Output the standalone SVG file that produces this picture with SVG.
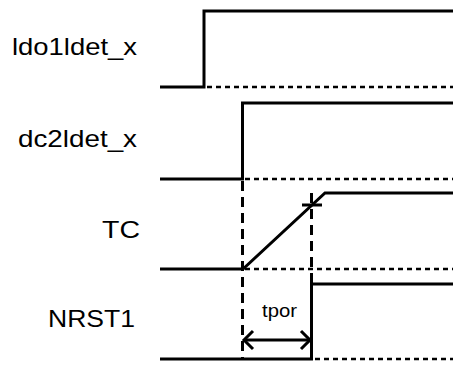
<svg xmlns="http://www.w3.org/2000/svg" width="453" height="365" viewBox="0 0 453 365">
<style>
.sig{fill:none;stroke:#000;stroke-width:3;stroke-linejoin:miter}
.dot{fill:none;stroke:#000;stroke-width:2.5;stroke-dasharray:5 4}
.dash{fill:none;stroke:#000;stroke-width:3;stroke-dasharray:10 6}
.lbl{font-family:"Liberation Sans",Arial,sans-serif;font-size:24px;fill:#000}
.small{font-family:"Liberation Sans",Arial,sans-serif;font-size:19px;fill:#000}
</style>
<rect width="453" height="365" fill="#fff"/>
<g id="labels">
<text class="lbl" x="12" y="55" textLength="125" lengthAdjust="spacingAndGlyphs">ldo1ldet_x</text>
<text class="lbl" x="18" y="147" textLength="119" lengthAdjust="spacingAndGlyphs">dc2ldet_x</text>
<text class="lbl" x="102" y="238" textLength="38" lengthAdjust="spacingAndGlyphs">TC</text>
<text class="lbl" x="48" y="327" textLength="87" lengthAdjust="spacingAndGlyphs">NRST1</text>
</g>
<g id="guides">
<line class="dot" x1="207" y1="87" x2="453" y2="87"/>
<line class="dot" x1="245" y1="179" x2="453" y2="179"/>
<line class="dot" x1="245" y1="269" x2="453" y2="269"/>
<line class="dot" x1="315" y1="359" x2="453" y2="359"/>
<line class="dash" x1="242.5" y1="181" x2="242.5" y2="359"/>
<line class="dash" x1="311.5" y1="193" x2="311.5" y2="284"/>
</g>
<g id="ldo1ldet_x">
<polyline class="sig" points="160,87 204,87 204,11 453,11"/>
</g>
<g id="dc2ldet_x">
<polyline class="sig" points="160,179 242.5,179 242.5,103 453,103"/>
</g>
<g id="TC">
<polyline class="sig" points="160,269 243,269 325,193 453,193"/>
<line class="sig" x1="302" y1="205" x2="322" y2="205"/>
</g>
<g id="NRST1">
<polyline class="sig" points="160,359 311.5,359 311.5,284 453,284"/>
</g>
<g id="tpor">
<line class="sig" x1="244" y1="340" x2="310" y2="340"/>
<polyline class="sig" points="253,331 244,340 253,349"/>
<polyline class="sig" points="301,331 310,340 301,349"/>
<text class="small" x="262" y="317" textLength="35" lengthAdjust="spacingAndGlyphs">tpor</text>
</g>
</svg>
